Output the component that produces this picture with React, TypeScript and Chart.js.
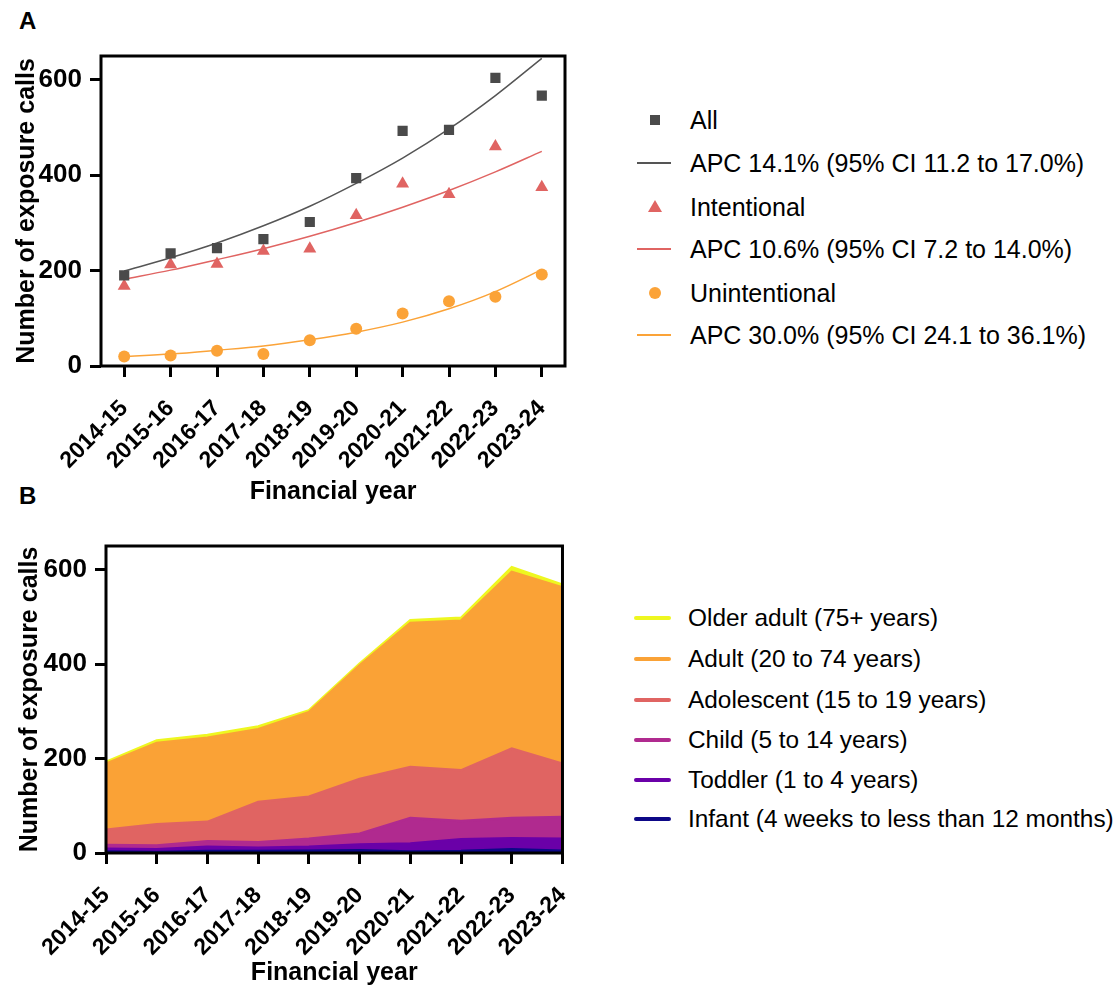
import React, { useEffect, useRef } from "react";
import { Chart, registerables } from "chart.js";

Chart.register(...registerables);

const FONT = '"Liberation Sans", Arial, Helvetica, sans-serif';

const categories = ["2014-15", "2015-16", "2016-17", "2017-18", "2018-19", "2019-20", "2020-21", "2021-22", "2022-23", "2023-24"];
const yTickValues = [0, 200, 400, 600];

// Panel A
const allCalls = [190, 236, 247, 266, 302, 394, 493, 495, 604, 567];
const intentionalCalls = [168, 213, 214, 241, 246, 316, 382, 360, 460, 375];
const unintentionalCalls = [20, 22, 32, 25, 54, 78, 110, 136, 145, 192];
const allFit = [199, 227, 258, 294, 335, 383, 436, 497, 567, 645];
const intentionalFit = [182, 201, 223, 246, 272, 301, 333, 368, 407, 450];
const unintentionalFit = [20, 25, 33, 42, 55, 71, 92, 120, 156, 202];

// Panel B
const infant = [3, 2, 4, 4, 5, 6, 3, 4, 8, 5];
const toddler = [6, 6, 9, 7, 8, 12, 17, 25, 23, 25];
const child = [8, 8, 12, 12, 17, 23, 54, 39, 43, 46];
const adolescent = [32, 45, 41, 85, 89, 116, 108, 107, 147, 113];
const adult = [140, 172, 178, 154, 179, 240, 305, 317, 374, 373];
const olderAdult = [4, 5, 6, 6, 4, 4, 6, 6, 10, 6];

const legendA = [
  { label: "All", kind: "square", color: "#4a4a4a" },
  { label: "APC 14.1% (95% CI 11.2 to 17.0%)", kind: "line", color: "#555555" },
  { label: "Intentional", kind: "triangle", color: "#e06462" },
  { label: "APC 10.6% (95% CI 7.2 to 14.0%)", kind: "line", color: "#e06462" },
  { label: "Unintentional", kind: "circle", color: "#fba338" },
  { label: "APC 30.0% (95% CI 24.1 to 36.1%)", kind: "line", color: "#fba338" },
];
const legendAY = [120, 163, 207, 249, 293, 335];

const groupLabels = [
  "Infant (4 weeks to less than 12 months)",
  "Toddler (1 to 4 years)",
  "Child (5 to 14 years)",
  "Adolescent (15 to 19 years)",
  "Adult (20 to 74 years)",
  "Older adult (75+ years)",
];
const groupColors = ["#0d0887", "#6a00a8", "#b02a8f", "#e06462", "#faa236", "#eef720"];
const groupData = [infant, toddler, child, adolescent, adult, olderAdult];
const legendBY = [819, 780, 740, 700, 659, 618];

const boxPlugin = {
  id: "boxBorder",
  afterDraw(chart: any) {
    const { ctx, chartArea: a } = chart;
    ctx.save();
    ctx.strokeStyle = "#000";
    ctx.lineWidth = 3;
    ctx.strokeRect(a.left, a.top, a.right - a.left, a.bottom - a.top);
    ctx.restore();
  },
};

function axes(offset: boolean, yWidth: number, xHeight: number, stacked: boolean, titleBottom: number) {
  return {
    x: {
      type: "category",
      offset,
      grid: { display: true, drawOnChartArea: false, drawTicks: true, tickLength: 11, tickWidth: 3, tickColor: "#000" },
      border: { display: false },
      ticks: {
        autoSkip: false,
        maxRotation: 45,
        minRotation: 45,
        padding: 18,
        color: "#000",
        font: { family: FONT, size: 23, weight: "bold" },
      },
      title: {
        display: true,
        text: "Financial year",
        color: "#000",
        font: { family: FONT, size: 25, weight: "bold" },
        padding: { top: 4, bottom: titleBottom },
      },
      afterFit: (s: any) => {
        s.height = xHeight;
      },
    },
    y: {
      type: "linear",
      min: 0,
      max: 650,
      stacked,
      grid: { display: true, drawOnChartArea: false, drawTicks: true, tickLength: 11, tickWidth: 3, tickColor: "#000" },
      border: { display: false },
      afterBuildTicks: (s: any) => {
        s.ticks = yTickValues.map((v) => ({ value: v }));
      },
      ticks: {
        padding: 8,
        color: "#000",
        font: { family: FONT, size: 26, weight: "bold" },
      },
      title: {
        display: true,
        text: "Number of exposure calls",
        color: "#000",
        font: { family: FONT, size: 25, weight: "bold" },
        padding: { top: 4, bottom: 4 },
      },
      afterFit: (s: any) => {
        s.width = yWidth;
      },
    },
  };
}

function ChartA() {
  const ref = useRef<HTMLCanvasElement | null>(null);
  useEffect(() => {
    if (!ref.current) return;
    const chart = new Chart(ref.current, {
      type: "line",
      data: {
        labels: categories,
        datasets: [
          { label: "All", data: allCalls, showLine: false, pointStyle: "rect", pointRadius: 7.2, backgroundColor: "#4a4a4a", borderColor: "#4a4a4a", borderWidth: 0 },
          { label: "All fit", data: allFit, pointRadius: 0, borderColor: "#555555", borderWidth: 1.5, cubicInterpolationMode: "monotone", fill: false },
          { label: "Intentional", data: intentionalCalls, showLine: false, pointStyle: "triangle", pointRadius: 7.5, backgroundColor: "#e06462", borderColor: "#e06462", borderWidth: 0 },
          { label: "Intentional fit", data: intentionalFit, pointRadius: 0, borderColor: "#e06462", borderWidth: 1.5, cubicInterpolationMode: "monotone", fill: false },
          { label: "Unintentional", data: unintentionalCalls, showLine: false, pointStyle: "circle", pointRadius: 6, backgroundColor: "#fba338", borderColor: "#fba338", borderWidth: 0 },
          { label: "Unintentional fit", data: unintentionalFit, pointRadius: 0, borderColor: "#fba338", borderWidth: 1.5, cubicInterpolationMode: "monotone", fill: false },
        ],
      } as any,
      options: {
        animation: false,
        responsive: true,
        maintainAspectRatio: false,
        layout: { padding: { left: 8, top: 56, right: 35, bottom: 0 } },
        plugins: { legend: { display: false }, tooltip: { enabled: false } },
        scales: axes(true, 93, 149, false, 8) as any,
      },
      plugins: [boxPlugin],
    });
    return () => chart.destroy();
  }, []);
  return (
    <div style={{ position: "absolute", left: 0, top: 0, width: 600, height: 515 }}>
      <canvas ref={ref} />
    </div>
  );
}

function ChartB() {
  const ref = useRef<HTMLCanvasElement | null>(null);
  useEffect(() => {
    if (!ref.current) return;
    const chart = new Chart(ref.current, {
      type: "line",
      data: {
        labels: categories,
        datasets: groupData.map((d, i) => ({
          label: groupLabels[i],
          data: d,
          backgroundColor: groupColors[i],
          borderColor: groupColors[i],
          borderWidth: 2.5,
          pointRadius: 0,
          tension: 0,
          fill: i === 0 ? "origin" : "-1",
        })),
      } as any,
      options: {
        animation: false,
        responsive: true,
        maintainAspectRatio: false,
        layout: { padding: { left: 11, top: 31, right: 33, bottom: 0 } },
        plugins: { legend: { display: false }, tooltip: { enabled: false }, filler: { propagate: false } },
        scales: axes(false, 95, 137, true, 2) as any,
      },
      plugins: [boxPlugin],
    });
    return () => chart.destroy();
  }, []);
  return (
    <div style={{ position: "absolute", left: 0, top: 515, width: 600, height: 475 }}>
      <canvas ref={ref} />
    </div>
  );
}

const textStyle: React.CSSProperties = {
  position: "absolute",
  fontFamily: FONT,
  fontSize: 24,
  lineHeight: "28px",
  color: "#000",
  whiteSpace: "nowrap",
};

function Marker({ kind, color, cx, cy }: { kind: string; color: string; cx: number; cy: number }) {
  if (kind === "square")
    return <div style={{ position: "absolute", left: cx - 5, top: cy - 5, width: 10, height: 10, background: color }} />;
  if (kind === "circle")
    return <div style={{ position: "absolute", left: cx - 6, top: cy - 6, width: 12, height: 12, borderRadius: 6, background: color }} />;
  if (kind === "triangle")
    return (
      <div
        style={{
          position: "absolute",
          left: cx - 7,
          top: cy - 7,
          width: 0,
          height: 0,
          borderLeft: "7px solid transparent",
          borderRight: "7px solid transparent",
          borderBottom: `12px solid ${color}`,
        }}
      />
    );
  return <div style={{ position: "absolute", left: 637, top: cy - 0.75, width: 34, height: 1.5, background: color }} />;
}

export default function App() {
  return (
    <div style={{ position: "fixed", left: 0, top: 0, width: 1120, height: 990, background: "#fff", overflow: "hidden" }}>
      <div style={{ ...textStyle, left: 19, top: 7, fontWeight: "bold", fontSize: 24 }}>A</div>
      <div style={{ ...textStyle, left: 19, top: 482, fontWeight: "bold", fontSize: 24 }}>B</div>
      <ChartA />
      <ChartB />
      {legendA.map((it, i) => (
        <React.Fragment key={it.label}>
          <Marker kind={it.kind} color={it.color} cx={655} cy={legendAY[i]} />
          <div style={{ ...textStyle, fontSize: 25, left: 690, top: legendAY[i] - 14 }}>{it.label}</div>
        </React.Fragment>
      ))}
      {groupLabels.map((lab, i) => (
        <React.Fragment key={lab}>
          <div
            style={{
              position: "absolute",
              left: 634,
              top: legendBY[i] - 2,
              width: 37,
              height: 4,
              borderRadius: 2,
              background: groupColors[i],
            }}
          />
          <div style={{ ...textStyle, fontSize: 24.4, left: 688, top: legendBY[i] - 14 }}>{lab}</div>
        </React.Fragment>
      ))}
    </div>
  );
}
